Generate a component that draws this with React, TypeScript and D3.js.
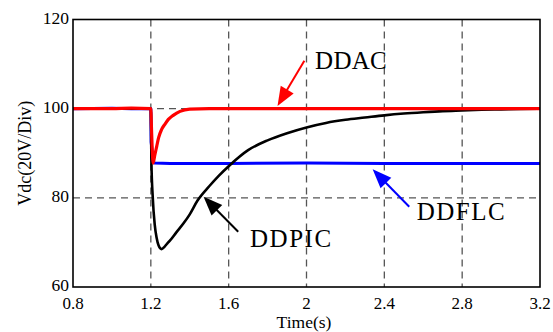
import React from "react";
import * as d3 from "d3";

const W = 553;
const H = 332;

const xTicks = [0.8, 1.2, 1.6, 2, 2.4, 2.8, 3.2];
const yTicks = [60, 80, 100, 120];
const xGrid = [1.2, 1.6, 2, 2.4, 2.8];
const yGrid = [80, 100];

// DDFLC (blue)
const blueT = [0.8, 1.0, 1.1, 1.2, 1.2015, 1.205, 1.209, 1.214, 1.22, 1.3, 1.6, 2.0, 2.4, 2.8, 3.2];
const blueV = [100, 100.1, 100, 100, 92.5, 91.2, 88.8, 88.0, 87.8, 87.7, 87.7, 87.8, 87.7, 87.7, 87.7];

// DDPIC (black)
const blackT = [0.8, 1.2, 1.203, 1.21, 1.22, 1.23, 1.24, 1.255, 1.27, 1.285, 1.3, 1.33, 1.37, 1.4, 1.44, 1.5, 1.55, 1.6, 1.7, 1.8, 1.9, 2.0, 2.1, 2.2, 2.3, 2.4, 2.5, 2.6, 2.7, 2.8, 2.9, 3.0, 3.1, 3.2];
const blackV = [100, 100, 88, 80, 74, 71, 69.3, 68.5, 69.0, 69.8, 70.5, 72.2, 74.4, 76.3, 79.4, 82.6, 85.0, 87.1, 90.7, 92.9, 94.5, 95.8, 96.8, 97.5, 98.0, 98.5, 98.9, 99.2, 99.45, 99.6, 99.75, 99.85, 99.95, 100];

// DDAC (red)
const redT = [0.8, 1.0, 1.1, 1.2, 1.203, 1.207, 1.212, 1.22, 1.23, 1.24, 1.255, 1.272, 1.29, 1.315, 1.35, 1.4, 1.5, 2.0, 2.5, 3.0, 3.2];
const redV = [100, 100, 100.1, 100, 96, 91, 87.8, 89.5, 91.5, 93.5, 95.3, 96.5, 97.6, 98.5, 99.4, 99.9, 100, 100, 100, 100, 100];

// annotations: label, text anchor (t, v), arrow tail (t, v), arrow tip (t, v)
const annLabels = ["DDAC", "DDPIC", "DDFLC"];
const annColors = ["#ff0000", "#000000", "#0000ff"];
const annTextT = [2.044, 1.71, 2.566];
const annTextV = [108.84, 69.05, 75.03];
const annTailT = [1.989, 1.649, 2.528];
const annTailV = [110.77, 72.4, 78.0];
const annTipT = [1.851, 1.471, 2.34];
const annTipV = [100.6, 80.26, 86.4];

const FONT = "Liberation Serif, DejaVu Serif, Times New Roman, Times, serif";

export default function App() {
  const left = 73;
  const right = 540;
  const top = 19.5;
  const bottom = 287;

  const x = d3.scaleLinear().domain([0.8, 3.2]).range([left, right]);
  const y = d3.scaleLinear().domain([60, 120]).range([bottom, top]);

  const mk = (ts: number[], vs: number[], curve: d3.CurveFactory) =>
    d3
      .line<number>()
      .x((_, i) => x(ts[i]))
      .y((v) => y(v))
      .curve(curve)(vs) || "";

  const bluePath = mk(blueT, blueV, d3.curveLinear);
  const blackPath = mk(blackT, blackV, d3.curveMonotoneX);
  const redPath = mk(redT, redV, d3.curveMonotoneX);

  const arrows = annLabels.map((lab, i) => {
    const x0 = x(annTailT[i]);
    const y0 = y(annTailV[i]);
    const x1 = x(annTipT[i]);
    const y1 = y(annTipV[i]);
    const dx = x1 - x0;
    const dy = y1 - y0;
    const len = Math.sqrt(dx * dx + dy * dy);
    const ux = dx / len;
    const uy = dy / len;
    const hl = 19;
    const hw = 7.5;
    const bx = x1 - ux * hl;
    const by = y1 - uy * hl;
    const px = -uy;
    const py = ux;
    const head = `${x1},${y1} ${bx + px * hw},${by + py * hw} ${bx - px * hw},${by - py * hw}`;
    return (
      <g key={lab}>
        <line x1={x0} y1={y0} x2={bx + ux * 2} y2={by + uy * 2} stroke={annColors[i]} strokeWidth={2} />
        <polygon points={head} fill={annColors[i]} />
        <text
          x={x(annTextT[i])}
          y={y(annTextV[i])}
          style={{ fontFamily: FONT, fontSize: 25, letterSpacing: i === 0 ? 0.3 : 1.5 }}
          fill="#000"
        >
          {lab}
        </text>
      </g>
    );
  });

  return (
    <svg
      width={W}
      height={H}
      style={{ position: "absolute", left: 0, top: 0, background: "#fff", fontFamily: FONT }}
    >
      <defs>
        <clipPath id="plotclip">
          <rect x={left} y={top} width={right - left} height={bottom - top} />
        </clipPath>
      </defs>
      <rect x={0} y={0} width={W} height={H} fill="#fff" />
      {xGrid.map((t) => (
        <line
          key={"gx" + t}
          x1={x(t)}
          x2={x(t)}
          y1={top}
          y2={bottom}
          stroke="#555"
          strokeWidth={1.3}
          strokeDasharray="7,5"
        />
      ))}
      {yGrid.map((v) => (
        <line
          key={"gy" + v}
          x1={left}
          x2={right}
          y1={y(v)}
          y2={y(v)}
          stroke="#555"
          strokeWidth={1.3}
          strokeDasharray="7,5"
        />
      ))}
      <g clipPath="url(#plotclip)">
        <path d={bluePath} fill="none" stroke="#0000ff" strokeWidth={3} strokeLinejoin="round" />
        <path d={blackPath} fill="none" stroke="#000" strokeWidth={2.6} strokeLinejoin="round" />
        <path d={redPath} fill="none" stroke="#ff0000" strokeWidth={3.2} strokeLinejoin="round" />
      </g>
      <rect
        x={left}
        y={top}
        width={right - left}
        height={bottom - top}
        fill="none"
        stroke="#000"
        strokeWidth={1.6}
      />
      {yTicks.map((v) => (
        <text
          key={"ty" + v}
          x={left - 4}
          y={y(v) + 4}
          textAnchor="end"
          style={{ fontFamily: FONT, fontSize: 17.5 }}
          fill="#000"
        >
          {v}
        </text>
      ))}
      {xTicks.map((t) => (
        <text
          key={"tx" + t}
          x={x(t)}
          y={309.3}
          textAnchor="middle"
          style={{ fontFamily: FONT, fontSize: 17 }}
          fill="#000"
        >
          {t}
        </text>
      ))}
      <text
        x={304}
        y={328.2}
        textAnchor="middle"
        style={{ fontFamily: FONT, fontSize: 17.5 }}
        fill="#000"
      >
        Time(s)
      </text>
      <text
        transform={`translate(31,${(top + bottom) / 2}) rotate(-90)`}
        textAnchor="middle"
        style={{ fontFamily: FONT, fontSize: 18 }}
        fill="#000"
      >
        Vdc(20V/Div)
      </text>
      {arrows}
    </svg>
  );
}
